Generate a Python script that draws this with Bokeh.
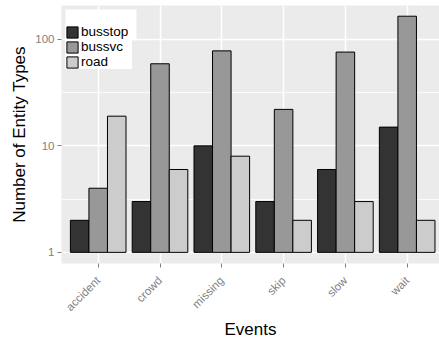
import numpy as np
from math import pi, log10
from bokeh.plotting import figure
from bokeh.models import Range1d, FixedTicker, Legend, LegendItem
from bokeh.embed import file_html
from bokeh.resources import INLINE

events = ["accident", "crowd", "missing", "skip", "slow", "wait"]
series = ["busstop", "bussvc", "road"]
busstop = [2, 3, 10, 3, 6, 15]
bussvc = [4, 59, 78, 22, 76, 165]
road = [19, 6, 8, 2, 3, 2]
colors = ["#333333", "#989898", "#CCCCCC"]
y_ticks = [1, 10, 100]
y_tick_labels = ["1", "10", "100"]

FONT = "Liberation Sans"

# layout (pixels)
W, H = 439, 342
FL, FT, FB = 61, 5, 264          # frame left / top / bottom
X0, X1 = 0.406, 6.523
Y0, Y1 = 0.786, 208

p = figure(width=W, height=H, output_backend="svg", toolbar_location=None,
           y_axis_type="log",
           x_range=Range1d(X0, X1), y_range=Range1d(Y0, Y1),
           min_border_left=FL, min_border_right=0, min_border_top=FT,
           min_border_bottom=H - FB)

p.background_fill_color = "#EBEBEB"
p.border_fill_color = "white"
p.outline_line_color = None


# white space above the legend keys (ggplot's empty legend title area)
def px_to_x(px):
    return X0 + (px - FL) / (W - FL) * (X1 - X0)


def px_to_y(py):
    ly0, ly1 = log10(Y0), log10(Y1)
    return 10 ** (ly1 - (py - FT) / (FB - FT) * (ly1 - ly0))


p.quad(left=[px_to_x(65)], right=[px_to_x(136)],
       top=[px_to_y(9)], bottom=[px_to_y(40)],
       fill_color="white", fill_alpha=1, line_color=None)

xpos = np.arange(1, len(events) + 1)
values = [busstop, bussvc, road]
width = 0.9 / len(series)
items = []
for j, (name, vals, col) in enumerate(zip(series, values, colors)):
    offs = (j - (len(series) - 1) / 2) * width
    r = p.vbar(x=xpos + offs, top=vals, bottom=1, width=width,
               fill_color=col, line_color="black", line_width=1)
    items.append(LegendItem(label=name, renderers=[r]))

# grids
p.xgrid.ticker = FixedTicker(ticks=list(xpos))
p.xgrid.grid_line_color = "white"
p.xgrid.grid_line_width = 1.5
minor = [float(np.sqrt(a * b)) for a, b in zip(y_ticks[:-1], y_ticks[1:])]
p.ygrid.ticker = FixedTicker(ticks=y_ticks, minor_ticks=minor)
p.ygrid.grid_line_color = "white"
p.ygrid.grid_line_width = 1.5
p.ygrid.minor_grid_line_color = "white"
p.ygrid.minor_grid_line_width = 0.8

# axes
p.xaxis.ticker = FixedTicker(ticks=list(xpos))
p.xaxis.major_label_overrides = {int(i): e for i, e in zip(xpos, events)}
p.xaxis.major_label_orientation = pi / 4
p.yaxis.ticker = FixedTicker(ticks=y_ticks)
p.yaxis.major_label_overrides = {t: l for t, l in zip(y_ticks, y_tick_labels)}

for ax in (p.xaxis[0], p.yaxis[0]):
    ax.axis_line_color = None
    ax.major_tick_line_color = "#7F7F7F"
    ax.major_tick_out = 4
    ax.major_tick_in = 0
    ax.minor_tick_line_color = None
    ax.major_label_text_color = "#7F7F7F"
    ax.major_label_text_font = FONT
    ax.major_label_text_font_size = "11.5px"
    ax.major_label_standoff = 3
    ax.axis_label_text_font = FONT
    ax.axis_label_text_font_size = "17px"
    ax.axis_label_text_font_style = "normal"
    ax.axis_label_text_color = "black"

p.xaxis.major_label_standoff = 11
p.xaxis.axis_label = "Events"
p.yaxis.axis_label = "Number of Entity Types"
p.xaxis.axis_label_standoff = 0
p.yaxis.axis_label_standoff = 3

legend = Legend(items=items, location=(4, FB - 70),
                background_fill_color="white", background_fill_alpha=1,
                border_line_color=None, padding=2, spacing=0, margin=0,
                glyph_width=14, glyph_height=14, label_standoff=2,
                label_height=13, label_width=51, label_text_font=FONT,
                label_text_font_size="13.5px", label_text_color="black")
p.add_layout(legend)

open("out.html", "w").write(file_html(p, INLINE))
